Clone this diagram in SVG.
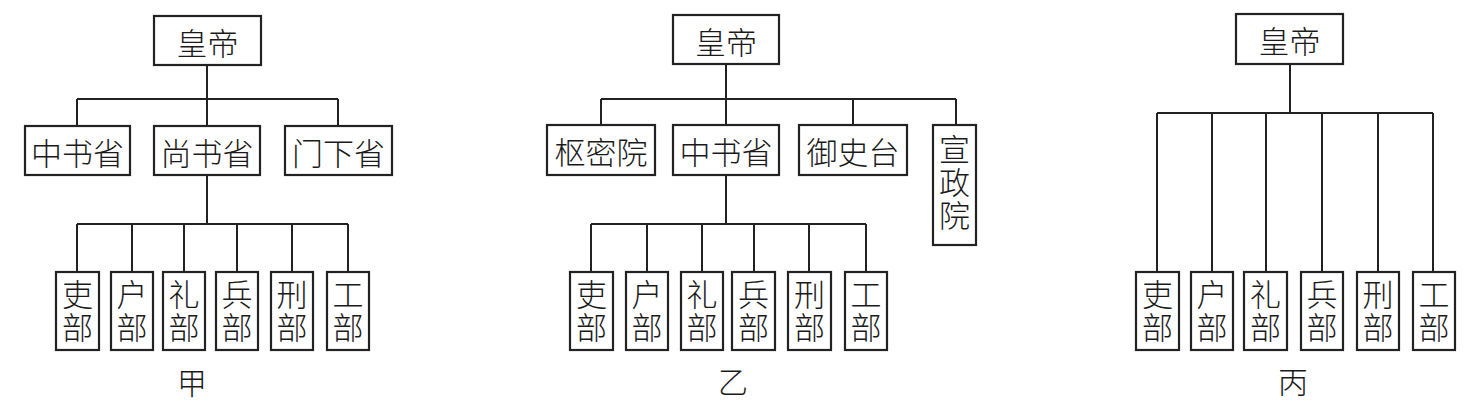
<svg xmlns="http://www.w3.org/2000/svg" width="1478" height="401" viewBox="0 0 1478 401">
<style>
.box{fill:#fff;stroke:#222;stroke-width:2.2}
.ln{fill:none;stroke:#222;stroke-width:2}
.t{font-family:"Noto Sans CJK SC","Noto Sans CJK TC",sans-serif;font-size:31px;font-weight:300;fill:#1a1a1a;text-anchor:middle;dominant-baseline:central}
.v{font-family:"Noto Sans CJK SC","Noto Sans CJK TC",sans-serif;font-size:31px;font-weight:300;fill:#1a1a1a;text-anchor:middle;writing-mode:vertical-rl;letter-spacing:2px}
.lbl{font-family:"Noto Sans CJK SC","Noto Sans CJK TC",sans-serif;font-size:30px;font-weight:300;fill:#1a1a1a;text-anchor:middle;dominant-baseline:central}
</style>
<rect width="1478" height="401" fill="#fff"/>
<g id="connectors">
<path class="ln" d="M207 65V99M77 99H338M77 99V126M207 99V126M338 99V126"/>
<path class="ln" d="M207 175V224M77 224H348M77 224V272M132 224V272M184 224V272M237 224V272M292 224V272M348 224V272"/>
<path class="ln" d="M726 64V99M601 99H956M601 99V125M726 99V125M853 99V125M956 99V125"/>
<path class="ln" d="M726 175V224M591 224H866M591 224V272M647 224V272M702 224V272M754 224V272M809 224V272M866 224V272"/>
<path class="ln" d="M1290 64V113M1157 113H1433M1157 113V272M1212 113V272M1266 113V272M1322 113V272M1378 113V272M1433 113V272"/>
</g>
<g id="a-emperor"><rect class="box" x="154" y="16" width="107" height="49"/><text class="t" x="207.5" y="41">皇帝</text></g>
<g id="a-zhongshu"><rect class="box" x="25" y="126" width="105" height="49"/><text class="t" x="77.5" y="151">中书省</text></g>
<g id="a-shangshu"><rect class="box" x="154" y="126" width="106" height="49"/><text class="t" x="207" y="151">尚书省</text></g>
<g id="a-menxia"><rect class="box" x="285" y="126" width="107" height="49"/><text class="t" x="338.5" y="151">门下省</text></g>
<g id="a-li"><rect class="box" x="56" y="272" width="43" height="78"/><text class="v" x="77.5" y="312">吏部</text></g>
<g id="a-hu"><rect class="box" x="111" y="272" width="42" height="78"/><text class="v" x="132" y="312">户部</text></g>
<g id="a-li2"><rect class="box" x="163" y="272" width="42" height="78"/><text class="v" x="184" y="312">礼部</text></g>
<g id="a-bing"><rect class="box" x="216" y="272" width="42" height="78"/><text class="v" x="237" y="312">兵部</text></g>
<g id="a-xing"><rect class="box" x="271" y="272" width="42" height="78"/><text class="v" x="292" y="312">刑部</text></g>
<g id="a-gong"><rect class="box" x="327" y="272" width="42" height="78"/><text class="v" x="348" y="312">工部</text></g>
<text class="lbl" x="192" y="381">甲</text>
<g id="b-emperor"><rect class="box" x="673" y="15" width="106" height="49"/><text class="t" x="726" y="40">皇帝</text></g>
<g id="b-shumi"><rect class="box" x="547" y="125" width="108" height="50"/><text class="t" x="601" y="150">枢密院</text></g>
<g id="b-zhongshu"><rect class="box" x="673" y="125" width="106" height="50"/><text class="t" x="726" y="150">中书省</text></g>
<g id="b-yushi"><rect class="box" x="799" y="125" width="108" height="50"/><text class="t" x="853" y="150">御史台</text></g>
<g id="b-xuanzheng"><rect class="box" x="933" y="125" width="43" height="120"/><text class="v" x="954.5" y="183">宣政院</text></g>
<g id="b-li"><rect class="box" x="570" y="272" width="43" height="78"/><text class="v" x="591.5" y="312">吏部</text></g>
<g id="b-hu"><rect class="box" x="626" y="272" width="42" height="78"/><text class="v" x="647" y="312">户部</text></g>
<g id="b-li2"><rect class="box" x="681" y="272" width="42" height="78"/><text class="v" x="702" y="312">礼部</text></g>
<g id="b-bing"><rect class="box" x="732" y="272" width="43" height="78"/><text class="v" x="753.5" y="312">兵部</text></g>
<g id="b-xing"><rect class="box" x="788" y="272" width="43" height="78"/><text class="v" x="809.5" y="312">刑部</text></g>
<g id="b-gong"><rect class="box" x="845" y="272" width="42" height="78"/><text class="v" x="866" y="312">工部</text></g>
<text class="lbl" x="733" y="380">乙</text>
<g id="c-emperor"><rect class="box" x="1236" y="14" width="107" height="50"/><text class="t" x="1289.5" y="39">皇帝</text></g>
<g id="c-li"><rect class="box" x="1136" y="272" width="43" height="78"/><text class="v" x="1157.5" y="312">吏部</text></g>
<g id="c-hu"><rect class="box" x="1191" y="272" width="42" height="78"/><text class="v" x="1212" y="312">户部</text></g>
<g id="c-li2"><rect class="box" x="1244" y="272" width="43" height="78"/><text class="v" x="1265.5" y="312">礼部</text></g>
<g id="c-bing"><rect class="box" x="1301" y="272" width="42" height="78"/><text class="v" x="1322" y="312">兵部</text></g>
<g id="c-xing"><rect class="box" x="1357" y="272" width="42" height="78"/><text class="v" x="1378" y="312">刑部</text></g>
<g id="c-gong"><rect class="box" x="1413" y="272" width="42" height="78"/><text class="v" x="1434" y="312">工部</text></g>
<text class="lbl" x="1293" y="380">丙</text>
</svg>
